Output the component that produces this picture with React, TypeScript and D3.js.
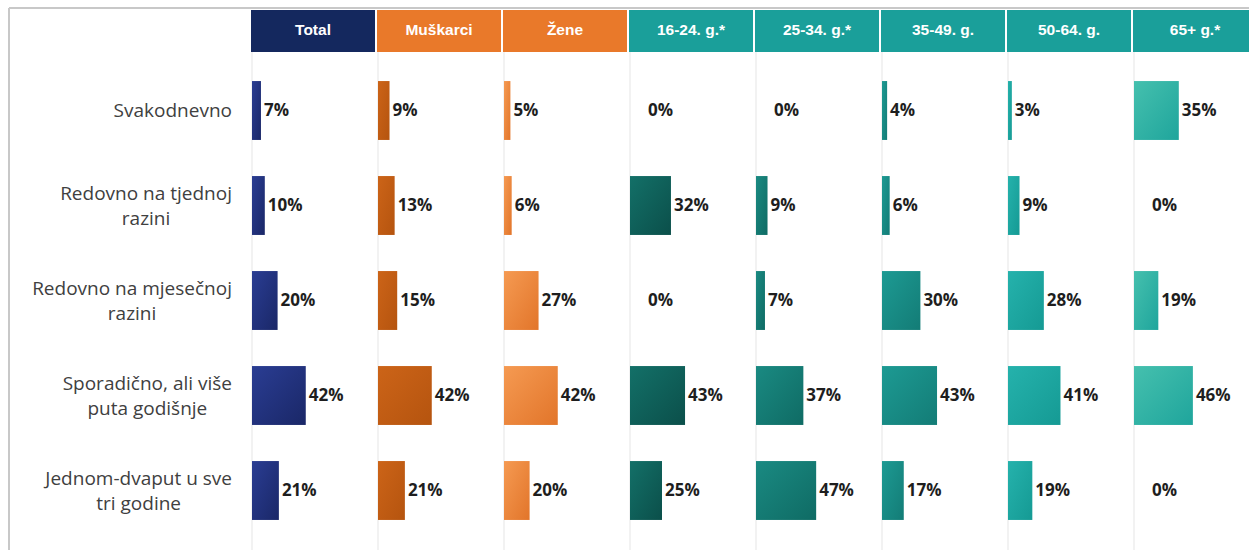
import React, { useEffect, useRef } from "react";
import * as d3 from "d3";

const categories = [
  "Svakodnevno",
  "Redovno na tjednoj|razini",
  "Redovno na mjesečnoj|razini",
  "Sporadično, ali više|puta godišnje",
  "Jednom-dvaput u sve|tri godine",
];
const groups = ["Total", "Muškarci", "Žene", "16-24. g.*", "25-34. g.*", "35-49. g.", "50-64. g.", "65+ g.*"];
const totalValues = [7, 10, 20, 42, 21];
const menValues = [9, 13, 15, 42, 21];
const womenValues = [5, 6, 27, 42, 20];
const age1624 = [0, 32, 0, 43, 25];
const age2534 = [0, 9, 7, 37, 47];
const age3549 = [4, 6, 30, 43, 17];
const age5064 = [3, 9, 28, 41, 19];
const age65 = [35, 0, 19, 46, 0];

const series = [totalValues, menValues, womenValues, age1624, age2534, age3549, age5064, age65];
const headerColors = ["#14285e", "#e9792a", "#e9792a", "#1a9f9a", "#1a9f9a", "#1a9f9a", "#1a9f9a", "#1a9f9a"];
const barColors: [string, string][] = [
  ["#2a3d93", "#1a2767"],
  ["#cc6418", "#b5540f"],
  ["#f59a52", "#e2752a"],
  ["#137068", "#0b4f4a"],
  ["#1a8a82", "#0f6b64"],
  ["#1d9a93", "#137c76"],
  ["#25b2ac", "#159a94"],
  ["#45c0ae", "#1fa59c"],
];

export default function App() {
  const ref = useRef<SVGSVGElement>(null);
  useEffect(() => {
    const svg = d3.select(ref.current);
    svg.selectAll("*").remove();
    const W = 1249, H = 550;
    const colX = d3.scaleBand<string>().domain(groups).range([251, 1259]).paddingInner(0);
    const y = d3.scaleBand<string>().domain(categories).range([63, 538]).paddingInner(0.38).paddingOuter(0.19);
    const x = d3.scaleLinear().domain([0, 100]).range([0, 128]);

    const defs = svg.append("defs");
    barColors.forEach((c, i) => {
      const g = defs.append("linearGradient").attr("id", "g" + i).attr("x1", "0").attr("y1", "0").attr("x2", "1").attr("y2", "1");
      g.append("stop").attr("offset", "0").attr("stop-color", c[0]);
      g.append("stop").attr("offset", "1").attr("stop-color", c[1]);
    });

    svg.append("rect").attr("width", W).attr("height", H).attr("fill", "#fff");
    svg.append("line").attr("x1", 9).attr("x2", W).attr("y1", 8).attr("y2", 8).attr("stroke", "#c8c8c8").attr("stroke-width", 2);
    svg.append("line").attr("x1", 9).attr("x2", 9).attr("y1", 8).attr("y2", H).attr("stroke", "#c8c8c8").attr("stroke-width", 2);

    groups.forEach((g) => {
      svg.append("line").attr("x1", colX(g)! + 1).attr("x2", colX(g)! + 1).attr("y1", 52).attr("y2", H).attr("stroke", "#eeeeee").attr("stroke-width", 1.5);
    });

    groups.forEach((g, i) => {
      const x0 = colX(g)!;
      svg.append("rect").attr("x", x0).attr("y", 10).attr("width", colX.bandwidth() - 2).attr("height", 42).attr("fill", headerColors[i]);
      svg.append("text").attr("x", x0 + (colX.bandwidth() - 2) / 2).attr("y", 30).attr("dy", "0.35em")
        .attr("text-anchor", "middle").attr("fill", "#fff").attr("font-family", "Liberation Sans, Arial, sans-serif")
        .attr("font-weight", "bold").attr("font-size", 15.5).text(g);
    });

    categories.forEach((c) => {
      const lines = c.split("|");
      const cy = y(c)! + y.bandwidth() / 2;
      const t = svg.append("text").attr("font-family", "Open Sans, sans-serif").attr("font-size", 19).attr("fill", "#404040");
      const lh = 25;
      const spans = lines.map((l, j) =>
        t.append("tspan").attr("y", cy + (j - (lines.length - 1) / 2) * lh).attr("dy", "0.35em").text(l)
      );
      const widths = spans.map((s) => (s.node() as SVGTSpanElement).getComputedTextLength());
      const maxW = Math.max(...widths);
      const cx = 232 - maxW / 2;
      spans.forEach((s) => s.attr("x", cx).attr("text-anchor", "middle"));
    });

    groups.forEach((g, i) => {
      const x0 = colX(g)! + 1;
      series[i].forEach((v, r) => {
        const c = categories[r];
        const w = x(v);
        if (v > 0) {
          svg.append("rect").attr("x", x0).attr("y", y(c)!).attr("width", w).attr("height", y.bandwidth())
            .attr("fill", `url(#g${i})`);
        }
        svg.append("text").attr("x", x0 + w + (v > 0 ? 3 : 18)).attr("y", y(c)! + y.bandwidth() / 2).attr("dy", "0.35em")
          .attr("font-family", "Open Sans, sans-serif").attr("font-weight", "bold").attr("font-size", 17)
          .attr("fill", "#1e1e1e").text(v + "%");
      });
    });
  }, []);
  return (
    <div style={{ position: "absolute", left: 0, top: 0 }}>
      <svg ref={ref} width={1249} height={550} />
    </div>
  );
}
